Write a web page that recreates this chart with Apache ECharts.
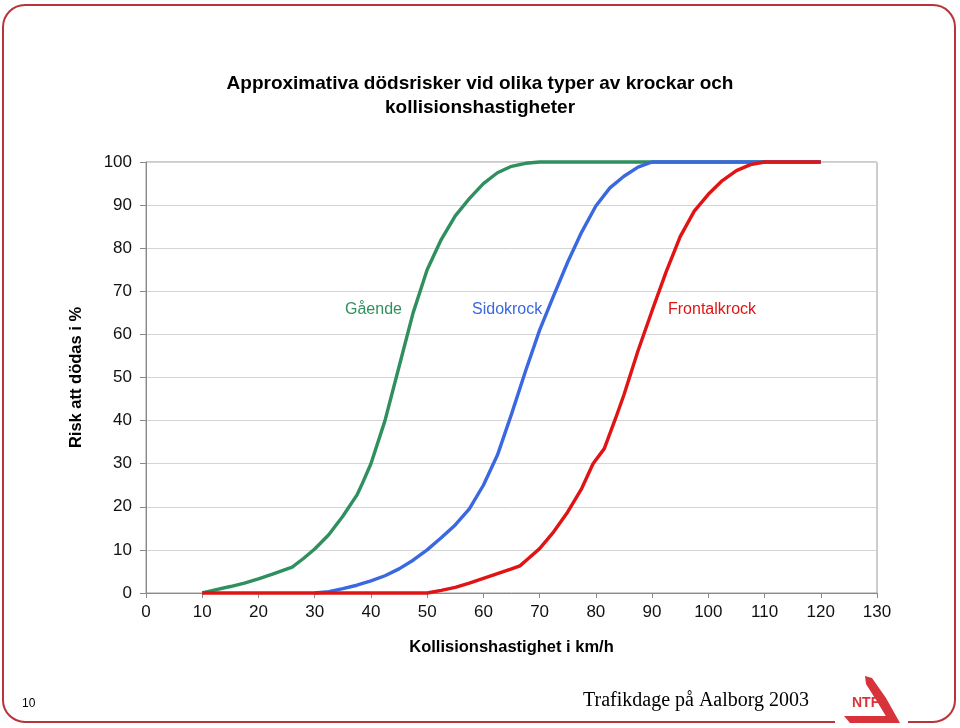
<!DOCTYPE html>
<html>
<head>
<meta charset="utf-8">
<script src="https://cdn.jsdelivr.net/npm/echarts@6/dist/echarts.min.js"></script>
<style>html,body{margin:0;padding:0;background:#fff}#c{width:960px;height:728px}</style>
</head>
<body>
<div id="c"></div>
<script>
// Speeds (km/h) and risk (%)
const gaendeSpeed = [10, 12.5, 15, 17.5, 20, 22.5, 26, 28, 30, 32.5, 35, 37.5, 38.5, 40, 42.5, 45, 47.5, 50, 52.5, 55, 57.5, 60, 62.5, 65, 67.5, 70, 120];
const gaendeRisk  = [0, 0.8, 1.5, 2.3, 3.3, 4.4, 6.0, 8.0, 10.2, 13.5, 17.8, 22.7, 25.5, 30, 40, 52.5, 65, 75, 82, 87.5, 91.5, 95, 97.5, 99, 99.7, 100, 100];

const sidoSpeed = [30, 32.5, 35, 37.5, 40, 42.5, 45, 47.5, 50, 52.5, 55, 57.5, 60, 62.5, 65, 67.5, 70, 72.5, 75, 77.5, 80, 82.5, 85, 87.5, 90, 120];
const sidoRisk  = [0, 0.3, 1.0, 1.8, 2.8, 4.0, 5.6, 7.6, 10, 12.8, 15.8, 19.5, 25, 32, 41.5, 51.5, 61, 69, 76.8, 83.8, 89.8, 94, 96.7, 98.8, 100, 100];

const frontSpeed = [10, 50, 52.5, 55, 57.5, 60, 62.5, 65, 66.5, 68, 70, 72.5, 75, 77.5, 79.5, 81.5, 83.5, 85, 87.5, 90, 92.5, 95, 97.5, 100, 102.5, 105, 107.5, 110, 120];
const frontRisk  = [0, 0, 0.6, 1.3, 2.3, 3.4, 4.5, 5.6, 6.3, 8.0, 10.3, 14.2, 18.8, 24.3, 30, 33.5, 40.5, 46, 56.2, 65.5, 74.5, 82.7, 88.6, 92.5, 95.7, 98, 99.4, 100, 100];

const xTicks = { min: 0, max: 130, interval: 10 };
const yTicks = { min: 0, max: 100, interval: 10 };

const seriesNames = ['Gående', 'Sidokrock', 'Frontalkrock'];
const colors = ['#2f8f5e', '#3a68e0', '#e01414'];

function pairs(xs, ys) { return xs.map((x, i) => [x, ys[i]]); }

const chart = echarts.init(document.getElementById('c'), null, { renderer: 'canvas' });
const font = '"Liberation Sans", Arial, sans-serif';

chart.setOption({
  backgroundColor: '#fff',
  animation: false,
  title: {
    text: 'Approximativa dödsrisker vid olika typer av krockar och\nkollisionshastigheter',
    left: 'center',
    top: 67,
    textStyle: { fontFamily: font, fontSize: 19, fontWeight: 'bold', color: '#000', lineHeight: 24 }
  },
  grid: { left: 146, right: 83, top: 162, bottom: 135, show: true, borderColor: '#9a9a9a', borderWidth: 1, backgroundColor: 'transparent' },
  xAxis: {
    type: 'value', min: xTicks.min, max: xTicks.max, interval: xTicks.interval,
    name: 'Kollisionshastighet i km/h', nameLocation: 'middle', nameGap: 46,
    nameTextStyle: { fontFamily: font, fontSize: 16.5, fontWeight: 'bold', color: '#000' },
    axisLine: { show: true, lineStyle: { color: '#8a8a8a', width: 1 } },
    axisTick: { show: true, length: 5, lineStyle: { color: '#8a8a8a' } },
    axisLabel: { fontFamily: font, fontSize: 17, color: '#111', margin: 11 },
    splitLine: { show: false }
  },
  yAxis: {
    type: 'value', min: yTicks.min, max: yTicks.max, interval: yTicks.interval,
    name: 'Risk att dödas i %', nameLocation: 'middle', nameGap: 61, nameRotate: 90,
    nameTextStyle: { fontFamily: font, fontSize: 16.5, fontWeight: 'bold', color: '#000' },
    axisLine: { show: true, lineStyle: { color: '#8a8a8a', width: 1 } },
    axisTick: { show: true, length: 6, lineStyle: { color: '#8a8a8a' } },
    axisLabel: { fontFamily: font, fontSize: 17, color: '#111', margin: 14 },
    splitLine: { show: true, lineStyle: { color: '#d4d4d4', width: 1 } }
  },
  series: [
    { name: seriesNames[0], type: 'line', data: pairs(gaendeSpeed, gaendeRisk), showSymbol: false, lineStyle: { color: colors[0], width: 3.4 }, itemStyle: { color: colors[0] }, z: 2, clip: false },
    { name: seriesNames[1], type: 'line', data: pairs(sidoSpeed, sidoRisk), showSymbol: false, lineStyle: { color: colors[1], width: 3.4 }, itemStyle: { color: colors[1] }, z: 3, clip: false },
    { name: seriesNames[2], type: 'line', data: pairs(frontSpeed, frontRisk), showSymbol: false, lineStyle: { color: colors[2], width: 3.4 }, itemStyle: { color: colors[2] }, z: 4, clip: false }
  ],
  graphic: [
    { type: 'rect', shape: { x: 3, y: 5, width: 952, height: 717, r: 22 }, style: { fill: 'none', stroke: '#b8343a', lineWidth: 2 }, z: 0, silent: true },
    { type: 'text', left: 345, top: 302, style: { text: seriesNames[0], fill: colors[0], font: '16px ' + font } },
    { type: 'text', left: 472, top: 302, style: { text: seriesNames[1], fill: colors[1], font: '16px ' + font } },
    { type: 'text', left: 668, top: 302, style: { text: seriesNames[2], fill: colors[2], font: '16px ' + font } },
    { type: 'text', left: 22, top: 698, style: { text: '10', fill: '#000', font: '12px ' + font } },
    { type: 'text', left: 583, top: 691, style: { text: 'Trafikdage på Aalborg 2003', fill: '#000', font: '20px "Liberation Serif", "Times New Roman", serif' } },
    // logo: gap in border + swoosh
    { type: 'rect', shape: { x: 835, y: 712, width: 73, height: 14 }, style: { fill: '#fff' }, z: 10, silent: true },
    { type: 'polygon', shape: { points: [[865, 676], [872, 678], [886, 698], [900, 723], [890, 723], [878, 703], [866, 684]] }, style: { fill: '#d8323a' }, z: 11 },
    { type: 'polygon', shape: { points: [[844, 716], [892, 716], [896, 723], [850, 723]] }, style: { fill: '#d8323a' }, z: 11 },
    { type: 'text', left: 852, top: 696, style: { text: 'NTF', fill: '#d8323a', font: 'bold 14px "Liberation Sans Narrow", ' + font }, z: 11 }
  ]
});
</script>
</body>
</html>
